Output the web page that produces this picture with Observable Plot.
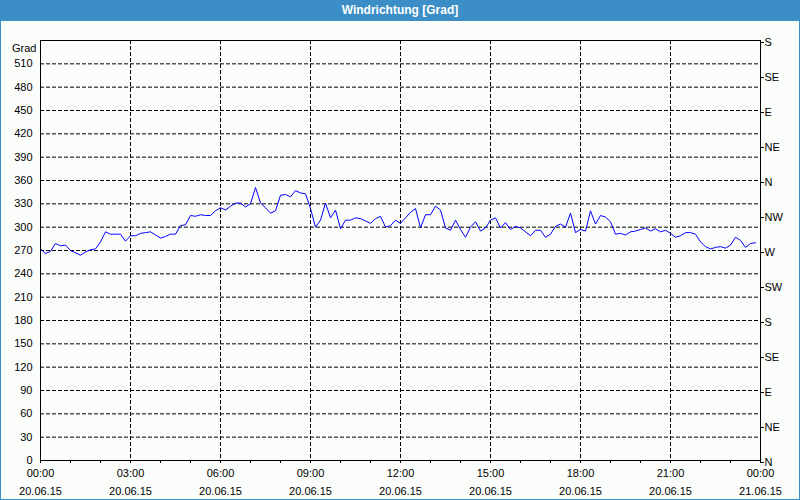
<!DOCTYPE html>
<html><head><meta charset="utf-8">
<script src="https://cdn.jsdelivr.net/npm/d3@7"></script>
<script src="https://cdn.jsdelivr.net/npm/@observablehq/plot@0.6"></script>
<style>
html,body{margin:0;padding:0;background:#fff;}
#wrap{position:relative;width:800px;height:500px;background:#fbfdfb;overflow:hidden;font-family:"Liberation Sans",Arial,sans-serif;}
#title{position:absolute;left:0;top:0;width:800px;height:21px;background:#3c8fc6;color:#fff;font-weight:bold;font-size:12px;line-height:21px;text-align:center;}
#chart{position:absolute;left:0;top:21px;}
#border{position:absolute;left:0;top:0;width:800px;height:500px;box-sizing:border-box;border:1px solid #3c8fc6;pointer-events:none;}
</style></head><body>
<div id="wrap"><div id="title">Windrichtung [Grad]</div><div id="chart"></div><div id="border"></div></div>
<script>
// 10-minute readings, 20.06.15 00:00 .. 23:50
const startTime = "2015-06-20T00:00:00Z";
const endTime = "2015-06-21T00:00:00Z";
const stepMinutes = 10;
const direction = [
  272, 266, 269, 279, 276, 277,
  270, 267, 264, 268, 271, 272,
  281, 294, 291, 291, 291, 282,
  289, 289, 292, 293, 294, 290,
  286, 288, 291, 291, 302, 303,
  315, 314, 316, 315, 315, 321,
  325, 322, 327, 331, 331, 326,
  330, 351, 331, 325, 318, 321,
  341, 342, 339, 347, 344, 343,
  324, 300, 309, 331, 312, 322,
  298, 309, 309, 312, 311, 308,
  305, 311, 314, 300, 302, 309,
  305, 312, 319, 324, 299, 316,
  316, 327, 322, 299, 296, 309,
  297, 287, 300, 307, 295, 299,
  309, 312, 299, 306, 297, 301,
  299, 294, 289, 296, 296, 287,
  291, 301, 304, 300, 318, 293,
  297, 295, 321, 304, 315, 313,
  307, 291, 292, 290, 294, 295,
  297, 299, 295, 298, 294, 296,
  292, 287, 289, 293, 293, 291,
  281, 275, 272, 274, 275, 273,
  277, 287, 283, 274, 279, 280
];
const gradTicks = [0, 30, 60, 90, 120, 150, 180, 210, 240, 270, 300, 330, 360, 390, 420, 450, 480, 510];
const gradMax = 540;
const axisTitle = "Grad";
const compassValues = [0, 45, 90, 135, 180, 225, 270, 315, 360, 405, 450, 495, 540];
const compassLabels = ["N", "NE", "E", "SE", "S", "SW", "W", "NW", "N", "NE", "E", "SE", "S"];

const t0 = new Date(startTime), t1 = new Date(endTime);
const data = direction.map((v, i) => ({t: d3.utcMinute.offset(t0, i * stepMinutes), v}));
const hourly = d3.utcHour.range(t0, d3.utcHour.offset(t1, 1));
const major = d3.utcHour.every(3).range(t0, d3.utcHour.offset(t1, 1));
const innerMajor = major.filter(d => d > t0 && d < t1);
const innerGrad = gradTicks.filter(d => d > 0);

const chart = Plot.plot({
  width: 800, height: 479,
  marginTop: 19, marginBottom: 40, marginLeft: 40, marginRight: 40,
  style: {background: "transparent", fontFamily: "'Liberation Sans', Arial, sans-serif", fontSize: "11px", color: "#000"},
  x: {type: "utc", domain: [t0, t1]},
  y: {domain: [0, gradMax]},
  marks: [
    Plot.ruleY(innerGrad, {stroke: "#000", strokeDasharray: "4,2"}),
    Plot.ruleX(innerMajor, {stroke: "#000", strokeDasharray: "4,2"}),
    Plot.lineY(data, {x: "t", y: "v", stroke: "#0000ff", strokeWidth: 1}),
    Plot.frame({stroke: "#000"}),
    Plot.axisY({anchor: "left", ticks: gradTicks, tickSize: 0, tickPadding: 8, tickFormat: d => String(d), label: null}),
    Plot.text([axisTitle], {frameAnchor: "top-left", text: d => d, textAnchor: "end", dx: -4, dy: 4, fill: "#000"}),
    Plot.axisY({anchor: "right", ticks: compassValues, tickSize: 3, tickPadding: 1, dy: 2, tickFormat: d => compassLabels[compassValues.indexOf(d)], label: null}),
    Plot.axisX({ticks: hourly, tickSize: 3, tickFormat: () => "", label: null}),
    Plot.axisX({ticks: major, tickSize: 0, tickPadding: 9, tickFormat: d3.utcFormat("%H:%M"), label: null}),
    Plot.axisX({ticks: major, tickSize: 0, tickPadding: 27, tickFormat: d3.utcFormat("%d.%m.%y"), label: null})
  ]
});
document.getElementById("chart").appendChild(chart);
</script>
</body></html>
